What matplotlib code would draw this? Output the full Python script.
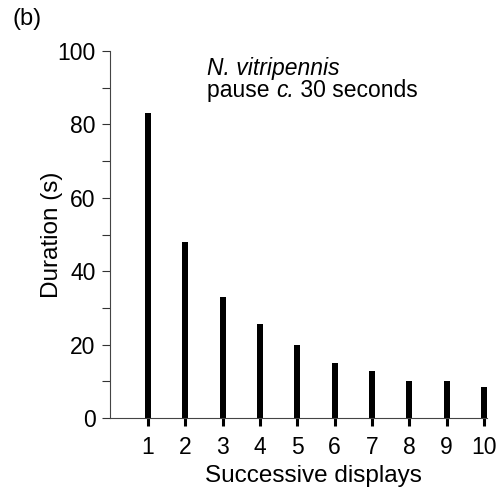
import matplotlib
matplotlib.use('Agg')
import matplotlib.pyplot as plt
from matplotlib.ticker import MultipleLocator

plt.rcParams['font.family'] = ['Liberation Sans', 'DejaVu Sans']

displays = [1, 2, 3, 4, 5, 6, 7, 8, 9, 10]
duration = [83, 48, 33, 25.5, 20, 15, 12.7, 10, 10, 8.5]
y_ticks = [0, 20, 40, 60, 80, 100]

W, H = 503, 491
fig = plt.figure(figsize=(W / 100, H / 100), dpi=100)
ax = fig.add_axes([110 / W, 1 - 418 / H, 377 / W, 367 / H])

ax.bar(displays, duration, width=0.16, color='black', linewidth=0)

ax.set_xlim(-0.02, 10.08)
ax.set_ylim(0, 100)
ax.set_xticks(displays)
ax.set_yticks(y_ticks)
ax.yaxis.set_minor_locator(MultipleLocator(10))

for s in ['top', 'right']:
    ax.spines[s].set_visible(False)
for s in ['left', 'bottom']:
    ax.spines[s].set_linewidth(0.8)
    ax.spines[s].set_color('#444444')

ax.tick_params(axis='x', direction='out', length=5.5, width=2.2, pad=7.5, labelsize=16.5)
ax.tick_params(axis='y', which='both', direction='out', length=5.5, width=0.8,
               color='#333333', pad=5, labelsize=16.5)

# axis titles placed by pixel position
fig.text(313 / W, 1 - 482 / H, 'Successive displays', fontsize=17.5,
         ha='center', va='baseline')
fig.text(52 / W, 1 - 234.5 / H, 'Duration (s)', fontsize=17.5,
         ha='center', va='center', rotation=90)

fig.text(13 / W, 1 - 25 / H, '(b)', fontsize=17, va='baseline')
fig.text(207 / W, 1 - 75.5 / H, 'N. vitripennis', fontsize=16.5, style='italic', va='baseline')

# second line with italic "c."
fig.canvas.draw()
r = fig.canvas.get_renderer()
x = 207
for txt, st in [('pause ', 'normal'), ('c.', 'italic'), (' 30 seconds', 'normal')]:
    t = fig.text(x / W, 1 - 97 / H, txt, fontsize=16.5, style=st, va='baseline')
    x += t.get_window_extent(r).width

fig.savefig('out.png', dpi=100)
